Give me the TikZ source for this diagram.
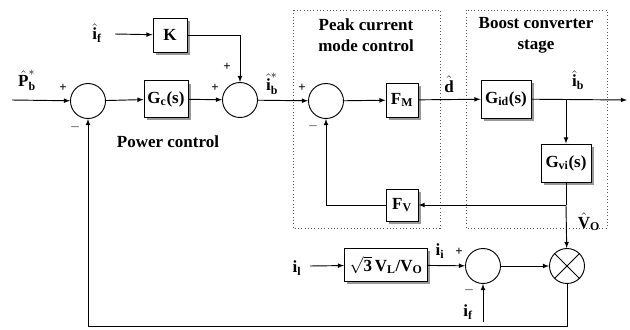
\documentclass[tikz,border=0pt]{standalone}
\usepackage{amsmath}
\usepackage{fontspec}
\setmainfont{Liberation Serif}
\usetikzlibrary{shadows}
\tikzset{
  blk/.style={draw,thick,fill=white,inner sep=2pt,
    drop shadow={shadow xshift=2.5pt,shadow yshift=-2.5pt,fill=gray!80,opacity=1}},
  sumc/.style={draw,thick,circle,minimum size=10.5mm,inner sep=0pt},
  sig/.style={->,thick},
  sgn/.style={font=\fontsize{11}{12}\selectfont\bfseries},
  grp/.style={dotted,thick,gray!70!black},
}
\newcommand{\tx}[1]{\text{#1}}
\begin{document}
\begin{tikzpicture}[x=0.03cm,y=-0.03cm,>=latex,font=\fontsize{14.5}{18}\selectfont\bfseries]
\useasboundingbox (0,0) rectangle (630,330);
% dotted groups
\draw[grp] (293,10) rectangle (440,228);
\draw[grp] (466,10) rectangle (607,228);
\node[align=center] at (366,35) {Peak current\\mode control};
\node[align=center] at (536,35) {Boost converter\\stage};
\node at (168,142) {Power control};
% blocks
\coordinate (in) at (12,100);
\node[sumc] (S1) at (88,101) {};
\node[blk,minimum width=13.2mm,minimum height=11mm] (Gc) at (166,99) {G\textsubscript{c}(s)};
\coordinate (ifin) at (115,34);
\node[blk,minimum size=10.2mm] (K) at (170,35) {K};
\node[sumc] (S2) at (240,100) {};
\node[sumc] (S3) at (326,101) {};
\node[blk,minimum width=9.6mm,minimum height=10.2mm] (FM) at (402,100) {F\textsubscript{M}};
\node[blk,minimum width=15mm,minimum height=11.4mm] (Gid) at (506,99) {G\textsubscript{id}(s)};
\coordinate (out) at (627,100);
\coordinate (br) at (566,100);
\node[blk,minimum width=15mm,minimum height=11.4mm] (Gvi) at (566,163) {G\textsubscript{vi}(s)};
\coordinate (vo) at (566,205);
\node[blk,minimum width=9.6mm,minimum height=9.6mm] (FV) at (402,205) {F\textsubscript{V}};
\node[sumc] (M) at (567,266) {};
\draw[thick] (M.north west) -- (M.south east) (M.north east) -- (M.south west);
\node[sumc] (S4) at (483,266) {};
\coordinate (ilin) at (310,266);
\node[blk,minimum width=24.9mm,minimum height=9.9mm] (Gl) at (386,265) {$\sqrt{\tx{3}}\,$V\textsubscript{L}/V\textsubscript{O}};
\coordinate (ifin2) at (483,322);
\coordinate (fb) at (88,326);
% connectors
\draw[sig] (in) -- (S1);
\draw[sig] (S1) -- (Gc);
\draw[sig] (Gc) -- (S2);
\draw[sig] (ifin) -- (K);
\draw[sig] (K.east) -| (S2.north);
\draw[sig] (S2) -- (S3);
\draw[sig] (S3) -- (FM);
\draw[sig] (FM) -- (Gid);
\draw[sig] (Gid) -- (out);
\draw[sig] (br) -- (Gvi);
\draw[thick] (Gvi) -- (vo);
\draw[sig] (vo) -- (M);
\draw[sig] (vo) -- (FV);
\draw[sig] (FV) -| (S3.south);
\draw[sig] (ilin) -- (Gl);
\draw[sig] (Gl) -- (S4);
\draw[sig] (ifin2) -- (S4);
\draw[sig] (S4) -- (M);
\draw[sig] (M.south) |- (fb) -- (S1.south);
% labels
\node at (27,80) {$\hat{\tx{P}}^{*}_{\tx{b}}$};
\node at (97,33) {$\hat{\tx{i}}_{\tx{f}}$};
\node at (272,84) {$\hat{\tx{i}}^{*}_{\tx{b}}$};
\node at (449,84) {$\hat{\tx{d}}$};
\node at (578,80) {$\hat{\tx{i}}_{\tx{b}}$};
\node at (589,222) {$\hat{\tx{V}}_{\tx{O}}$};
\node at (297,268) {i\textsubscript{l}};
\node at (440,251) {i\textsubscript{i}};
\node at (468,312) {i\textsubscript{f}};
% signs
\node[sgn] at (63,88) {+};
\node[sgn] at (75,127) {$-$};
\node[sgn] at (215,88) {+};
\node[sgn] at (227,67) {+};
\node[sgn] at (302,88) {+};
\node[sgn] at (313,126) {$-$};
\node[sgn] at (459,252) {+};
\node[sgn] at (469,290) {$-$};
\end{tikzpicture}
\end{document}
